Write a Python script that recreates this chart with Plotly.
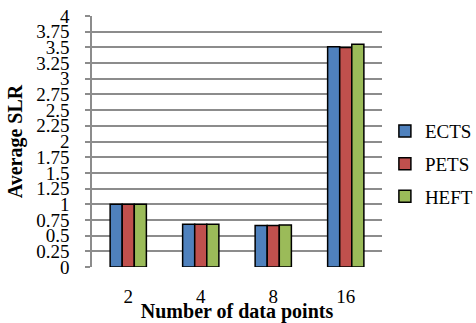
import plotly.graph_objects as go

categories = ["2", "4", "8", "16"]
ects = [1.0, 0.68, 0.66, 3.51]
pets = [1.0, 0.68, 0.66, 3.50]
heft = [1.0, 0.68, 0.67, 3.55]
series_names = ["ECTS", "PETS", "HEFT"]
colors = ["#4F81BD", "#C0504D", "#9BBB59"]
ytick_vals = [0, 0.25, 0.5, 0.75, 1, 1.25, 1.5, 1.75, 2, 2.25, 2.5, 2.75, 3, 3.25, 3.5, 3.75, 4]
ytick_text = ["0", "0.25", "0.5", "0.75", "1", "1.25", "1.5", "1.75", "2", "2.25", "2.5", "2.75", "3", "3.25", "3.5", "3.75", "4"]

FONT = "Times New Roman"

fig = go.Figure()
for name, vals, col in zip(series_names, [ects, pets, heft], colors):
    fig.add_trace(go.Bar(
        x=categories, y=vals, name=name, legendgroup=name,
        marker=dict(color=col, line=dict(color="black", width=1.5)),
    ))

fig.update_layout(
    width=476, height=323,
    margin=dict(l=92, r=94, t=16, b=56, autoexpand=False),
    paper_bgcolor="white", plot_bgcolor="white",
    font=dict(family=FONT, size=19, color="black"),
    barmode="group", bargap=0.5, bargroupgap=0,
    legend=dict(
        x=1.01, xanchor="left", xref="paper", y=0.41, yanchor="middle",
        font=dict(family=FONT, size=19, color="black"),
        traceorder="grouped", tracegroupgap=5,
        bgcolor="rgba(0,0,0,0)", borderwidth=0,
        itemwidth=30,
    ),
    showlegend=True,
)

fig.update_xaxes(
    type="category", automargin=False,
    showgrid=False, showline=False, zeroline=False,
    ticks="", ticklabelstandoff=16,
    tickfont=dict(family=FONT, size=19, color="black"),
    title=dict(text="<b>Number of data points</b>", standoff=1,
               font=dict(family=FONT, size=20, color="black")),
)

fig.update_yaxes(
    range=[0, 4], automargin=False,
    tickvals=ytick_vals, ticktext=ytick_text,
    showgrid=True, gridcolor="#8c8c8c", gridwidth=1.5,
    showline=True, linecolor="#8c8c8c", linewidth=1.5,
    zeroline=False,
    ticks="outside", ticklen=5, tickcolor="#8c8c8c", tickwidth=1.5,
    ticklabelstandoff=12,
    tickfont=dict(family=FONT, size=19, color="black"),
    title=dict(text="<b>Average SLR</b>", standoff=8,
               font=dict(family=FONT, size=20, color="black")),
)

# remove the browser's default 8px body margin so the figure fills the window
fig.write_html("out.html", config={"displayModeBar": False},
               post_script="document.body.style.margin='0';")
